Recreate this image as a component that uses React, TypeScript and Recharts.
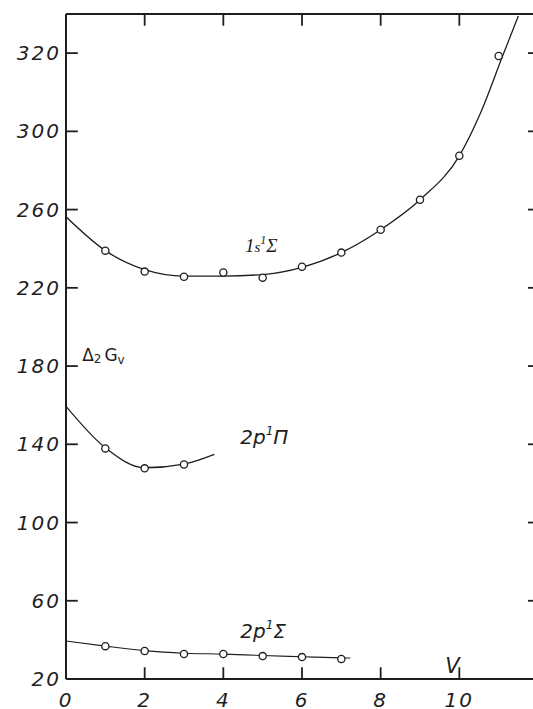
import { ComposedChart, Line, Scatter, XAxis, YAxis, ReferenceDot, ReferenceLine } from "recharts";

// measured points (v, Δ2Gv)
const sigma1sPoints = [
  { x: 1, y: 239.0 }, { x: 2, y: 228.3 }, { x: 3, y: 225.7 }, { x: 4, y: 227.8 },
  { x: 5, y: 225.2 }, { x: 6, y: 230.8 }, { x: 7, y: 238.0 }, { x: 8, y: 249.7 },
  { x: 9, y: 265.0 }, { x: 10, y: 287.5 }, { x: 11, y: 338.5 },
];
const pi2pPoints = [{ x: 1, y: 137.9 }, { x: 2, y: 127.7 }, { x: 3, y: 129.7 }];
const sigma2pPoints = [
  { x: 1, y: 36.8 }, { x: 2, y: 34.3 }, { x: 3, y: 32.8 }, { x: 4, y: 32.8 },
  { x: 5, y: 31.7 }, { x: 6, y: 31.2 }, { x: 7, y: 30.2 },
];

// drawn smooth curves
const sigma1sCurve = [
  { x: 0, y: 256.3 }, { x: 1, y: 239.0 }, { x: 2, y: 229.3 }, { x: 3, y: 226.0 },
  { x: 4, y: 226.0 }, { x: 5, y: 226.8 }, { x: 6, y: 230.5 }, { x: 7, y: 238.0 },
  { x: 8, y: 249.7 }, { x: 9, y: 265.0 }, { x: 10, y: 287.5 }, { x: 10.53, y: 309 },
  { x: 11.1, y: 338.5 }, { x: 11.5, y: 359 },
];
const pi2pCurve = [
  { x: 0, y: 159.4 }, { x: 1, y: 138.2 }, { x: 2, y: 128.0 }, { x: 3, y: 129.9 }, { x: 3.77, y: 134.9 },
];
const sigma2pCurve = [
  { x: 0, y: 39.4 }, { x: 1, y: 36.8 }, { x: 2, y: 34.5 }, { x: 3, y: 33.2 }, { x: 4, y: 32.7 },
  { x: 5, y: 32.0 }, { x: 6, y: 31.4 }, { x: 7, y: 30.8 }, { x: 7.23, y: 30.7 },
];

const xTicks = [0, 2, 4, 6, 8, 10];
const yTicks = [20, 60, 100, 140, 180, 220, 260, 300, 340];
const yTickLabels = ["20", "60", "100", "140", "180", "220", "260", "300", "320"];
const xMin = 0, xMax = 12, yMin = 20, yMax = 360;

const ink = "#1e1e1e";
const numFont = { fill: ink, fontFamily: "DejaVu Sans", fontStyle: "italic", fontSize: 20, letterSpacing: 2 };
const axisLine = { stroke: ink, strokeWidth: 2 };

// inward tick length, in axis units (~12px)
const tickX = 0.3;
const tickY = 6;

const Ring = (props: any) => (
  <circle cx={props.cx} cy={props.cy} r={3.6} fill="#fff" stroke={ink} strokeWidth={1.3} />
);

const note = (render: (cx: number, cy: number) => any) => (props: any) => render(props.cx, props.cy);

export default function App() {
  const tickProps = { stroke: ink, strokeWidth: 1.8, ifOverflow: "visible" as const };
  return (
    <div style={{ position: "absolute", left: 0, top: 0, width: 533, height: 709, overflow: "hidden", background: "#fff" }}>
      <ComposedChart width={538} height={709} margin={{ top: 14, right: 0, bottom: 0, left: 0 }}>
        <XAxis
          dataKey="x" type="number" domain={[xMin, xMax]} ticks={xTicks} allowDataOverflow
          height={30} tickSize={0} tickMargin={14} tick={numFont}
          axisLine={axisLine} tickLine={false}
        />
        <YAxis
          dataKey="y" type="number" domain={[yMin, yMax]} ticks={yTicks} allowDataOverflow
          width={66} tickSize={0} tickMargin={5} tick={numFont}
          tickFormatter={(_v: number, i: number) => yTickLabels[i]}
          axisLine={axisLine} tickLine={false}
        />

        {/* frame top and inward tick marks on all four sides */}
        <ReferenceLine y={yMax} stroke={ink} strokeWidth={2} ifOverflow="visible" />
        <ReferenceLine x={xMax} stroke={ink} strokeWidth={2} ifOverflow="visible" />
        {yTicks.slice(1).map((v) => (
          <ReferenceLine key={"l" + v} segment={[{ x: xMin, y: v }, { x: xMin + tickX, y: v }]} {...tickProps} />
        ))}
        {yTicks.slice(1).map((v) => (
          <ReferenceLine key={"r" + v} segment={[{ x: xMax - tickX * 0.85, y: v }, { x: xMax, y: v }]} {...tickProps} />
        ))}
        {xTicks.slice(1).map((v) => (
          <ReferenceLine key={"b" + v} segment={[{ x: v, y: yMin }, { x: v, y: yMin + tickY }]} {...tickProps} />
        ))}
        {xTicks.slice(1).map((v) => (
          <ReferenceLine key={"t" + v} segment={[{ x: v, y: yMax - tickY }, { x: v, y: yMax }]} {...tickProps} />
        ))}

        <Line data={sigma1sCurve} dataKey="y" type="monotone" stroke={ink} strokeWidth={1.3} dot={false} isAnimationActive={false} />
        <Line data={pi2pCurve} dataKey="y" type="monotone" stroke={ink} strokeWidth={1.3} dot={false} isAnimationActive={false} />
        <Line data={sigma2pCurve} dataKey="y" type="monotone" stroke={ink} strokeWidth={1.1} dot={false} isAnimationActive={false} />

        <Scatter data={sigma1sPoints} dataKey="y" shape={<Ring />} isAnimationActive={false} />
        <Scatter data={pi2pPoints} dataKey="y" shape={<Ring />} isAnimationActive={false} />
        <Scatter data={sigma2pPoints} dataKey="y" shape={<Ring />} isAnimationActive={false} />

        <ReferenceDot x={4.55} y={238.5} r={0} shape={note((cx, cy) => (
          <text x={cx} y={cy} fill={ink} fontFamily="Liberation Serif" fontStyle="italic" fontSize={19}>
            1<tspan fontSize={15}>s</tspan><tspan fontSize={12} dy={-8}>1</tspan><tspan dy={8}>Σ</tspan>
          </text>
        ))} />
        <ReferenceDot x={4.43} y={140.0} r={0} shape={note((cx, cy) => (
          <text x={cx} y={cy} fill={ink} fontFamily="DejaVu Sans" fontStyle="italic" fontSize={20}>
            2p<tspan fontSize={12} dy={-9}>1</tspan><tspan dy={9}>Π</tspan>
          </text>
        ))} />
        <ReferenceDot x={4.43} y={40.9} r={0} shape={note((cx, cy) => (
          <text x={cx} y={cy} fill={ink} fontFamily="DejaVu Sans" fontStyle="italic" fontSize={20}>
            2p<tspan fontSize={12} dy={-9}>1</tspan><tspan dy={9}>Σ</tspan>
          </text>
        ))} />
        <ReferenceDot x={0.41} y={182.8} r={0} shape={note((cx, cy) => (
          <text x={cx} y={cy} fill={ink} fontFamily="DejaVu Sans" fontSize={17}>
            Δ<tspan fontSize={12} dy={2}>2</tspan><tspan dy={-2} dx={3}>G</tspan><tspan fontSize={12} dy={3}>v</tspan>
          </text>
        ))} />
        <ReferenceDot x={9.64} y={23} r={0} shape={note((cx, cy) => (
          <text x={cx} y={cy} fill={ink} fontFamily="DejaVu Sans" fontStyle="italic" fontSize={21}>
            V
          </text>
        ))} />
      </ComposedChart>
    </div>
  );
}
